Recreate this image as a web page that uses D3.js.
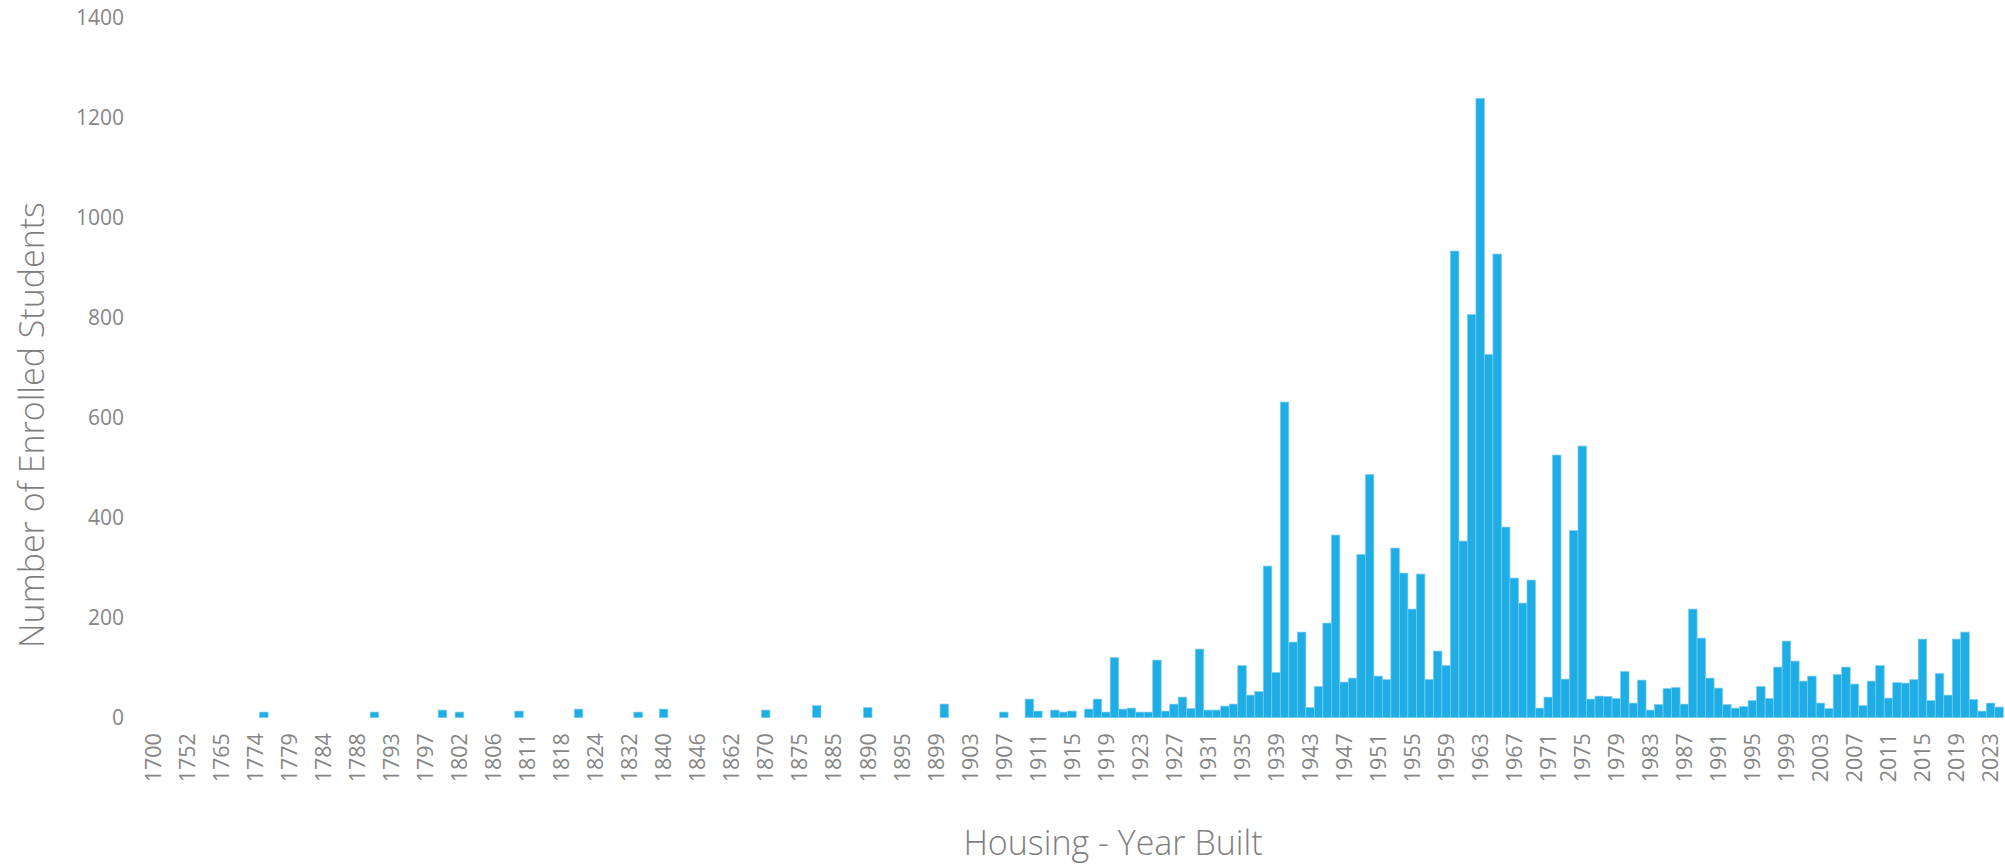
<!DOCTYPE html>
<html>
<head>
<meta charset="utf-8">
<script src="https://cdn.jsdelivr.net/npm/d3@7/dist/d3.min.js"></script>
<style>
  body { margin: 0; background: #ffffff; }
  svg text { font-family: "Open Sans", "Noto Sans", sans-serif; }
</style>
</head>
<body>
<div id="SvgContainerDiv"></div>
<script>
// categories: every year that shows up in the housing data (unlabeled ones are estimates)
const years = [
    1700, 1720, 1735, 1750, 1752, 1755, 1760, 1762, 1765, 1768, 1770, 1772,
    1774, 1775, 1776, 1778, 1779, 1780, 1781, 1783, 1784, 1785, 1786, 1787,
    1788, 1789, 1790, 1792, 1793, 1794, 1795, 1796, 1797, 1798, 1800, 1801,
    1802, 1803, 1804, 1805, 1806, 1807, 1808, 1810, 1811, 1812, 1814, 1815,
    1818, 1819, 1820, 1822, 1824, 1825, 1828, 1830, 1832, 1834, 1836, 1838,
    1840, 1841, 1843, 1845, 1846, 1850, 1855, 1860, 1862, 1865, 1867, 1868,
    1870, 1871, 1872, 1874, 1875, 1878, 1880, 1882, 1885, 1886, 1887, 1888,
    1890, 1891, 1892, 1893, 1895, 1896, 1897, 1898, 1899, 1900, 1901, 1902,
    1903, 1904, 1905, 1906, 1907, 1908, 1909, 1910, 1911, 1912, 1913, 1914,
    1915, 1916, 1917, 1918, 1919, 1920, 1921, 1922, 1923, 1924, 1925, 1926,
    1927, 1928, 1929, 1930, 1931, 1932, 1933, 1934, 1935, 1936, 1937, 1938,
    1939, 1940, 1941, 1942, 1943, 1944, 1945, 1946, 1947, 1948, 1949, 1950,
    1951, 1952, 1953, 1954, 1955, 1956, 1957, 1958, 1959, 1960, 1961, 1962,
    1963, 1964, 1965, 1966, 1967, 1968, 1969, 1970, 1971, 1972, 1973, 1974,
    1975, 1976, 1977, 1978, 1979, 1980, 1981, 1982, 1983, 1984, 1985, 1986,
    1987, 1988, 1989, 1990, 1991, 1992, 1993, 1994, 1995, 1996, 1997, 1998,
    1999, 2000, 2001, 2002, 2003, 2004, 2005, 2006, 2007, 2008, 2009, 2010,
    2011, 2012, 2013, 2014, 2015, 2016, 2017, 2018, 2019, 2020, 2021, 2022,
    2023, 2024
];

// number of enrolled students per year built
const students = [
    0, 0, 0, 0, 0, 0, 0, 0, 0, 0, 0, 0,
    0, 11, 0, 0, 0, 0, 0, 0, 0, 0, 0, 0,
    0, 0, 11, 0, 0, 0, 0, 0, 0, 0, 15, 0,
    11, 0, 0, 0, 0, 0, 0, 13, 0, 0, 0, 0,
    0, 0, 17, 0, 0, 0, 0, 0, 0, 11, 0, 0,
    17, 0, 0, 0, 0, 0, 0, 0, 0, 0, 0, 0,
    15, 0, 0, 0, 0, 0, 24, 0, 0, 0, 0, 0,
    20, 0, 0, 0, 0, 0, 0, 0, 0, 27, 0, 0,
    0, 0, 0, 0, 11, 0, 0, 37, 13, 0, 15, 11,
    13, 0, 17, 37, 11, 120, 17, 19, 11, 11, 115, 13,
    27, 41, 18, 137, 15, 15, 23, 27, 104, 45, 52, 303,
    90, 631, 151, 171, 20, 62, 189, 365, 71, 79, 326, 486,
    83, 76, 339, 289, 217, 287, 76, 133, 104, 933, 353, 806,
    1238, 726, 927, 381, 279, 229, 275, 19, 41, 525, 77, 374,
    543, 37, 43, 42, 38, 92, 29, 75, 15, 26, 58, 60,
    27, 217, 159, 79, 59, 26, 19, 22, 34, 62, 38, 101,
    153, 113, 73, 83, 29, 18, 86, 101, 67, 24, 73, 104,
    39, 70, 69, 76, 157, 34, 88, 45, 157, 171, 36, 13,
    29, 21
];

const yTicks = [0, 200, 400, 600, 800, 1000, 1200, 1400];

// every fourth year gets a label on the x axis
const xLabels = years.filter((d, i) => i % 4 === 0);

const width = 2005, height = 866;
const labelColor = "#868686";

const svg = d3.select("#SvgContainerDiv")
    .append("svg")
    .attr("width", width)
    .attr("height", height);

// scales
const x = d3.scaleBand()
    .domain(years)
    .range([149, 2003.3])
    .padding(0);

const y = d3.scaleLinear()
    .domain([0, 1400])
    .range([717.6, 17.5]);

// bars
svg.append("g")
    .selectAll("rect")
    .data(years)
    .join("rect")
    .attr("x", d => x(d))
    .attr("width", x.bandwidth())
    .attr("y", (d, i) => y(students[i]))
    .attr("height", (d, i) => y(0) - y(students[i]))
    .style("fill", "#1eade4")
    .style("stroke", "#79cdef")
    .style("stroke-width", 0.7);

// y axis, labels only (no thousands separator, like the original)
const yAxis = svg.append("g")
    .attr("transform", "translate(124,0)")
    .call(d3.axisLeft(y).tickValues(yTicks).tickFormat(d3.format("d")).tickSize(0).tickPadding(0));
yAxis.select(".domain").remove();
yAxis.selectAll("text")
    .style("font-size", "21px")
    .style("fill", labelColor);

// x axis, rotated year labels
const xAxis = svg.append("g")
    .attr("transform", "translate(0," + y(0) + ")")
    .call(d3.axisBottom(x).tickValues(xLabels).tickSize(0));
xAxis.select(".domain").remove();
xAxis.selectAll("text")
    .attr("transform", "rotate(-90)")
    .attr("x", -15.5)
    .attr("y", 0)
    .attr("dy", "0.36em")
    .attr("text-anchor", "end")
    .style("font-size", "21.5px")
    .style("fill", labelColor);

// axis titles
svg.append("text")
    .attr("transform", "translate(44,425) rotate(-90)")
    .attr("text-anchor", "middle")
    .style("font-size", "34px")
    .style("font-weight", 300)
    .style("fill", "#7f7f7f")
    .text("Number of Enrolled Students");

svg.append("text")
    .attr("x", 1113)
    .attr("y", 855)
    .attr("text-anchor", "middle")
    .style("font-size", "34px")
    .style("font-weight", 300)
    .style("fill", "#7f7f7f")
    .text("Housing - Year Built");
</script>
</body>
</html>
